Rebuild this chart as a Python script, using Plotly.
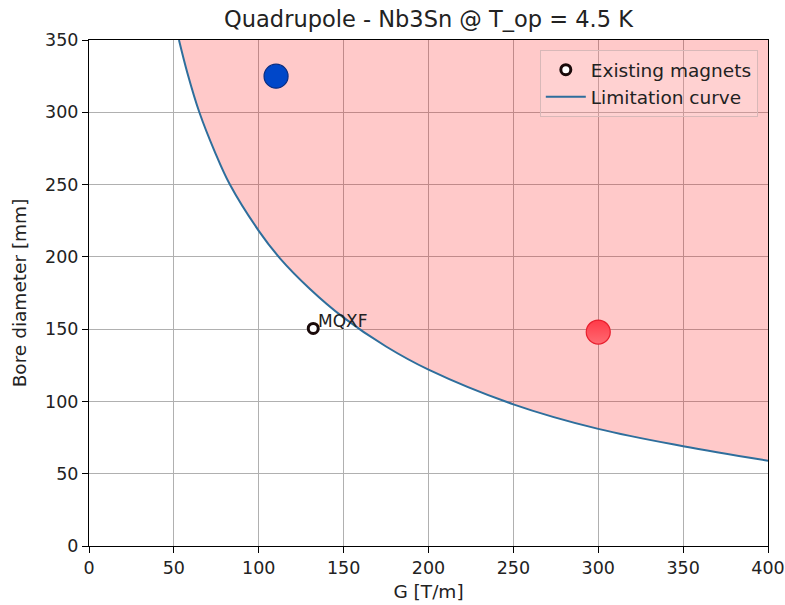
import plotly.graph_objects as go

# Limitation curve
curve_G = [53, 58, 65, 74, 83, 100, 112.5, 130, 150, 175, 200, 250, 300, 350, 400]
curve_D = [350, 327, 300, 273, 250, 218, 199, 178, 158, 138, 122, 98, 81, 69, 59]

# Existing magnets
magnet_names = ["MQXF"]
magnet_G = [132.1]
magnet_D = [150.5]

# Highlighted points
blue_G, blue_D = [110.2], [325]
red_G, red_D = [300], [148]

x_ticks = [0, 50, 100, 150, 200, 250, 300, 350, 400]
y_ticks = [0, 50, 100, 150, 200, 250, 300, 350]
top_D = 350

FONT = "DejaVu Sans"
TXT = "#222222"

fig = go.Figure()

# invisible top boundary for the fill
fig.add_trace(go.Scatter(x=curve_G, y=[top_D] * len(curve_G), mode="lines",
                         line=dict(width=0, color="rgba(0,0,0,0)"),
                         showlegend=False, hoverinfo="skip"))
# fill between curve and top
fig.add_trace(go.Scatter(x=curve_G, y=curve_D, mode="lines",
                         line=dict(width=0, shape="spline", color="rgba(0,0,0,0)"),
                         fill="tonexty", fillcolor="rgba(255,0,0,0.21)",
                         showlegend=False, hoverinfo="skip"))
# existing magnets
fig.add_trace(go.Scatter(x=magnet_G, y=magnet_D, mode="markers", name="Existing magnets",
                         marker=dict(symbol="circle", size=10, color="white",
                                     line=dict(color="#1a0a0a", width=3))))
# curve line
fig.add_trace(go.Scatter(x=curve_G, y=curve_D, mode="lines", name="Limitation curve",
                         line=dict(width=2, shape="spline", color="#2e6e9c")))
# blue and red points
fig.add_trace(go.Scatter(x=blue_G, y=blue_D, mode="markers", showlegend=False,
                         marker=dict(size=24, color="#0047c9",
                                     line=dict(color="#0a2d80", width=1.2))))
fig.add_trace(go.Scatter(x=red_G, y=red_D, mode="markers", showlegend=False,
                         marker=dict(size=24, color="#ff3a48",
                                     gradient=dict(type="vertical", color="#ff6a72"),
                                     line=dict(color="#e8202e", width=1.2))))

for name, g, d in zip(magnet_names, magnet_G, magnet_D):
    fig.add_annotation(x=g, y=d, text=name, showarrow=False, xanchor="left",
                       yanchor="bottom", xshift=3, yshift=-5,
                       font=dict(family=FONT, size=17, color=TXT))

axis_common = dict(showline=True, linecolor="black", linewidth=1, mirror=True,
                   showgrid=True, gridcolor="#b0b0b0", gridwidth=1,
                   ticks="outside", ticklen=6, tickwidth=1, tickcolor="black",
                   zeroline=False, automargin=False,
                   tickfont=dict(family=FONT, size=17.5, color=TXT))

fig.update_xaxes(range=[0, 400], tickvals=x_ticks, ticktext=[str(v) for v in x_ticks],
                 title=dict(text="G [T/m]", font=dict(family=FONT, size=18.5, color=TXT),
                            standoff=8),
                 **axis_common)
fig.update_yaxes(range=[0, 350], tickvals=y_ticks, ticktext=[str(v) for v in y_ticks],
                 title=dict(text="Bore diameter [mm]", font=dict(family=FONT, size=18.5, color=TXT),
                            standoff=13),
                 **axis_common)

fig.update_layout(
    width=785, height=605,
    margin=dict(l=89, r=17, t=40, b=59),
    paper_bgcolor="white", plot_bgcolor="white",
    title=dict(text="Quadrupole - Nb3Sn @ T_op = 4.5 K", x=(222 + 635) / 2 / 785, xref="container",
               y=1 - 19 / 605, yref="container", yanchor="middle", xanchor="center",
               font=dict(family=FONT, size=22.5, color=TXT)),
    legend=dict(x=0.985, y=0.98, xanchor="right", yanchor="top", traceorder="normal",
                bgcolor="rgba(255,255,255,0.15)", bordercolor="#d8b8b8", borderwidth=1,
                font=dict(family=FONT, size=18.5, color=TXT),
                tracegroupgap=0, itemwidth=40),
    showlegend=True,
)

fig.write_html("out.html")
